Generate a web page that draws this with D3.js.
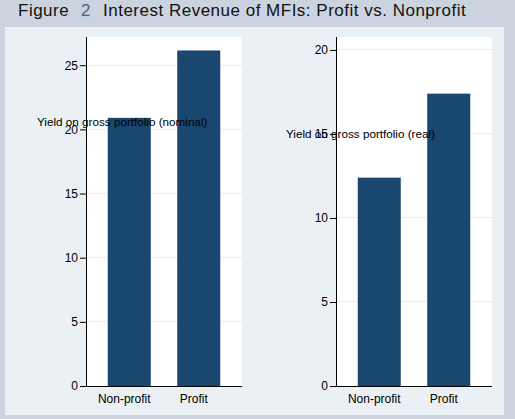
<!DOCTYPE html>
<html>
<head>
<meta charset="utf-8">
<script src="https://cdn.jsdelivr.net/npm/d3@7"></script>
<style>
  html, body { margin: 0; padding: 0; background: #cbd4de; }
  svg { display: block; font-family: Arial, "Liberation Sans", sans-serif; }
</style>
</head>
<body>
<svg id="chart" width="515" height="419"></svg>
<script>
// ---- data ----
const categories = ["Non-profit", "Profit"];
const nominalYield = [20.9, 26.15];
const realYield = [12.4, 17.4];
const nominalTicks = [0, 5, 10, 15, 20, 25];
const realTicks = [0, 5, 10, 15, 20];
const nominalTitle = "Yield on gross portfolio (nominal)";
const realTitle = "Yield on gross portfolio (real)";
const figureTitlePre = "Figure";
const figureNumber = "2";
const figureTitlePost = "Interest Revenue of MFIs: Profit vs. Nonprofit";

const W = 515, H = 419;
const svg = d3.select("#chart");

// backgrounds
svg.append("rect").attr("width", W).attr("height", H).attr("fill", "#cbd4de");
svg.append("rect").attr("x", 5).attr("y", 27).attr("width", 499).attr("height", 388)
  .attr("fill", "#eaf0f3");

// title
const tg = svg.append("g").attr("font-size", 17).attr("fill", "#111")
  .style("letter-spacing", "0.5px");
tg.append("text").attr("x", 18).attr("y", 16).text(figureTitlePre);
tg.append("rect").attr("x", 80).attr("y", 2).attr("width", 12).attr("height", 17).attr("fill", "#c3d2e4");
tg.append("text").attr("x", 81).attr("y", 16).attr("fill", "#56606c").attr("font-weight", 300)
  .style("letter-spacing", "0px").text(figureNumber);
tg.append("text").attr("x", 103).attr("y", 16).text(figureTitlePost);

function panel(opts) {
  const { left, right, top, bottom, values, ticks, yMax, title, titleX, titleY } = opts;
  const g = svg.append("g");
  g.append("rect").attr("x", left).attr("y", top).attr("width", right - left).attr("height", bottom - top)
    .attr("fill", "#ffffff");

  const y = d3.scaleLinear().domain([0, yMax]).range([bottom, top]);
  const x = d3.scaleBand().domain(categories).range([left, right])
    .paddingInner(0.381).paddingOuter(0.313);

  // grid
  g.selectAll("line.grid").data(ticks.filter(t => t > 0)).join("line")
    .attr("x1", left).attr("x2", right)
    .attr("y1", d => y(d)).attr("y2", d => y(d))
    .attr("stroke", "#e6eef1").attr("stroke-width", 1).attr("shape-rendering", "crispEdges");

  // bars
  g.selectAll("rect.bar").data(values).join("rect")
    .attr("x", (d, i) => x(categories[i]))
    .attr("width", x.bandwidth())
    .attr("y", d => y(d))
    .attr("height", d => bottom - y(d))
    .attr("fill", "#1a476f");

  // y axis
  const ya = d3.axisLeft(y).tickValues(ticks).tickSize(6).tickPadding(2).tickFormat(d3.format("d"));
  const yg = g.append("g").attr("transform", `translate(${left},0)`).call(ya);
  yg.select(".domain").attr("stroke", "#000").attr("d", `M0.5,${top}V${bottom}`);
  yg.selectAll(".tick line").attr("stroke", "#000");
  yg.selectAll(".tick text").attr("font-size", 12).attr("fill", "#000")
    .attr("font-family", "Arial, 'Liberation Sans', sans-serif");

  // x axis
  const xa = d3.axisBottom(x).tickSize(0).tickPadding(8);
  const xg = g.append("g").attr("transform", `translate(0,${bottom})`).call(xa);
  xg.select(".domain").attr("stroke", "#000").attr("d", `M${left},0.5H${right}`);
  xg.selectAll(".tick text").attr("font-size", 12).attr("fill", "#000").attr("dx", -5)
    .attr("font-family", "Arial, 'Liberation Sans', sans-serif");

  // axis title (drawn horizontally, as in the source)
  g.append("text").attr("x", titleX).attr("y", titleY).attr("font-size", 11.7).attr("fill", "#000")
    .text(title);
}

panel({ left: 86, right: 242, top: 37, bottom: 386, values: nominalYield, ticks: nominalTicks,
  yMax: 27.2, title: nominalTitle, titleX: 37, titleY: 126 });
panel({ left: 336, right: 492, top: 37, bottom: 386, values: realYield, ticks: realTicks,
  yMax: 20.77, title: realTitle, titleX: 286, titleY: 138 });
</script>
</body>
</html>
